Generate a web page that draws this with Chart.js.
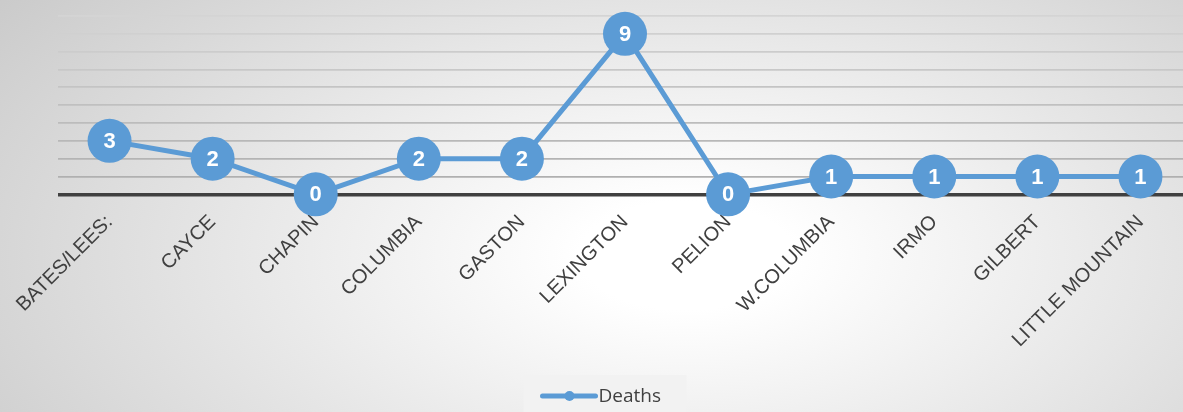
<!DOCTYPE html>
<html>
<head>
<meta charset="utf-8">
<script src="https://cdn.jsdelivr.net/npm/chart.js@4"></script>
<style>
  html, body { margin: 0; padding: 0; overflow: hidden; }
  body {
    width: 1183px; height: 412px;
    background: radial-gradient(ellipse 75% 110% at 58% 62%, #ffffff 0%, #ffffff 12%, #c8c8c8 100%);
  }
  #wrap { width: 1214px; height: 418px; margin-top: -6px; }
</style>
</head>
<body>
<div id="wrap"><canvas id="deathsChart"></canvas></div>
<script>
// categorias y valores
const towns = ["BATES/LEES:", "CAYCE", "CHAPIN", "COLUMBIA", "GASTON", "LEXINGTON",
               "PELION", "W.COLUMBIA", "IRMO", "GILBERT", "LITTLE MOUNTAIN"];
const deaths = [3, 2, 0, 2, 2, 9, 0, 1, 1, 1, 1];
const seriesName = "Deaths";
const blue = "#5b9bd5";

// numeros blancos dentro de cada punto
const pointLabels = {
    id: 'pointLabels',
    afterDatasetsDraw(chart) {
        const ctx = chart.ctx;
        const meta = chart.getDatasetMeta(0);
        ctx.save();
        ctx.fillStyle = "#ffffff";
        ctx.font = "bold 22px 'Liberation Sans', Arial, sans-serif";
        ctx.textAlign = "center";
        ctx.textBaseline = "middle";
        meta.data.forEach((pt, i) => {
            ctx.fillText(String(deaths[i]), pt.x, pt.y + 1);
        });
        ctx.restore();
    }
};

// leyenda abajo: linea con punto + texto
const bottomLegend = {
    id: 'bottomLegend',
    afterDraw(chart) {
        const ctx = chart.ctx;
        const cx = 1183 / 2 + 14;
        const y = chart.height - 16;
        ctx.save();
        ctx.fillStyle = "rgba(242,242,242,0.9)";
        ctx.fillRect(cx - 82, y - 21, 163, 37);
        ctx.strokeStyle = blue;
        ctx.lineWidth = 5;
        ctx.lineCap = "round";
        ctx.beginPath();
        ctx.moveTo(cx - 63, y);
        ctx.lineTo(cx - 10, y);
        ctx.stroke();
        ctx.fillStyle = blue;
        ctx.beginPath();
        ctx.arc(cx - 36, y, 5, 0, Math.PI * 2);
        ctx.fill();
        ctx.fillStyle = "#404040";
        ctx.font = "19px 'Open Sans', sans-serif";
        ctx.textAlign = "left";
        ctx.textBaseline = "middle";
        ctx.fillText(seriesName, cx - 7, y + 1);
        ctx.restore();
    }
};

const ctx = document.getElementById('deathsChart').getContext('2d');
const deathsChart = new Chart(ctx, {
    type: 'line',
    data: {
        labels: towns,
        datasets: [{
            label: seriesName,
            data: deaths,
            borderColor: blue,
            backgroundColor: blue,
            borderWidth: 5,
            pointRadius: 22,
            pointHoverRadius: 22,
            pointBorderWidth: 0,
            tension: 0,
            clip: false
        }]
    },
    options: {
        responsive: true,
        maintainAspectRatio: false,
        animation: false,
        layout: { padding: { left: 58, top: 2, right: 0, bottom: 52 } },
        plugins: {
            legend: { display: false },
            tooltip: { enabled: false }
        },
        scales: {
            x: {
                offset: true,
                grid: { display: false },
                border: { display: false },
                ticks: {
                    color: "#404040",
                    font: { size: 20, family: "'Liberation Sans', Arial, sans-serif" },
                    minRotation: 45,
                    maxRotation: 45,
                    autoSkip: false,
                    padding: 8
                }
            },
            y: {
                min: 0,
                max: 10,
                ticks: { display: false, stepSize: 1 },
                border: { display: false },
                grid: {
                    drawTicks: false,
                    color: (c) => {
                        if (c.tick.value === 0) return "#404040";
                        const g = Math.round(172 + c.tick.value * 4);
                        return "rgb(" + g + "," + g + "," + g + ")";
                    },
                    lineWidth: (c) => c.tick.value === 0 ? 3.5 : 1.8
                }
            }
        }
    },
    plugins: [pointLabels, bottomLegend]
});
</script>
</body>
</html>
